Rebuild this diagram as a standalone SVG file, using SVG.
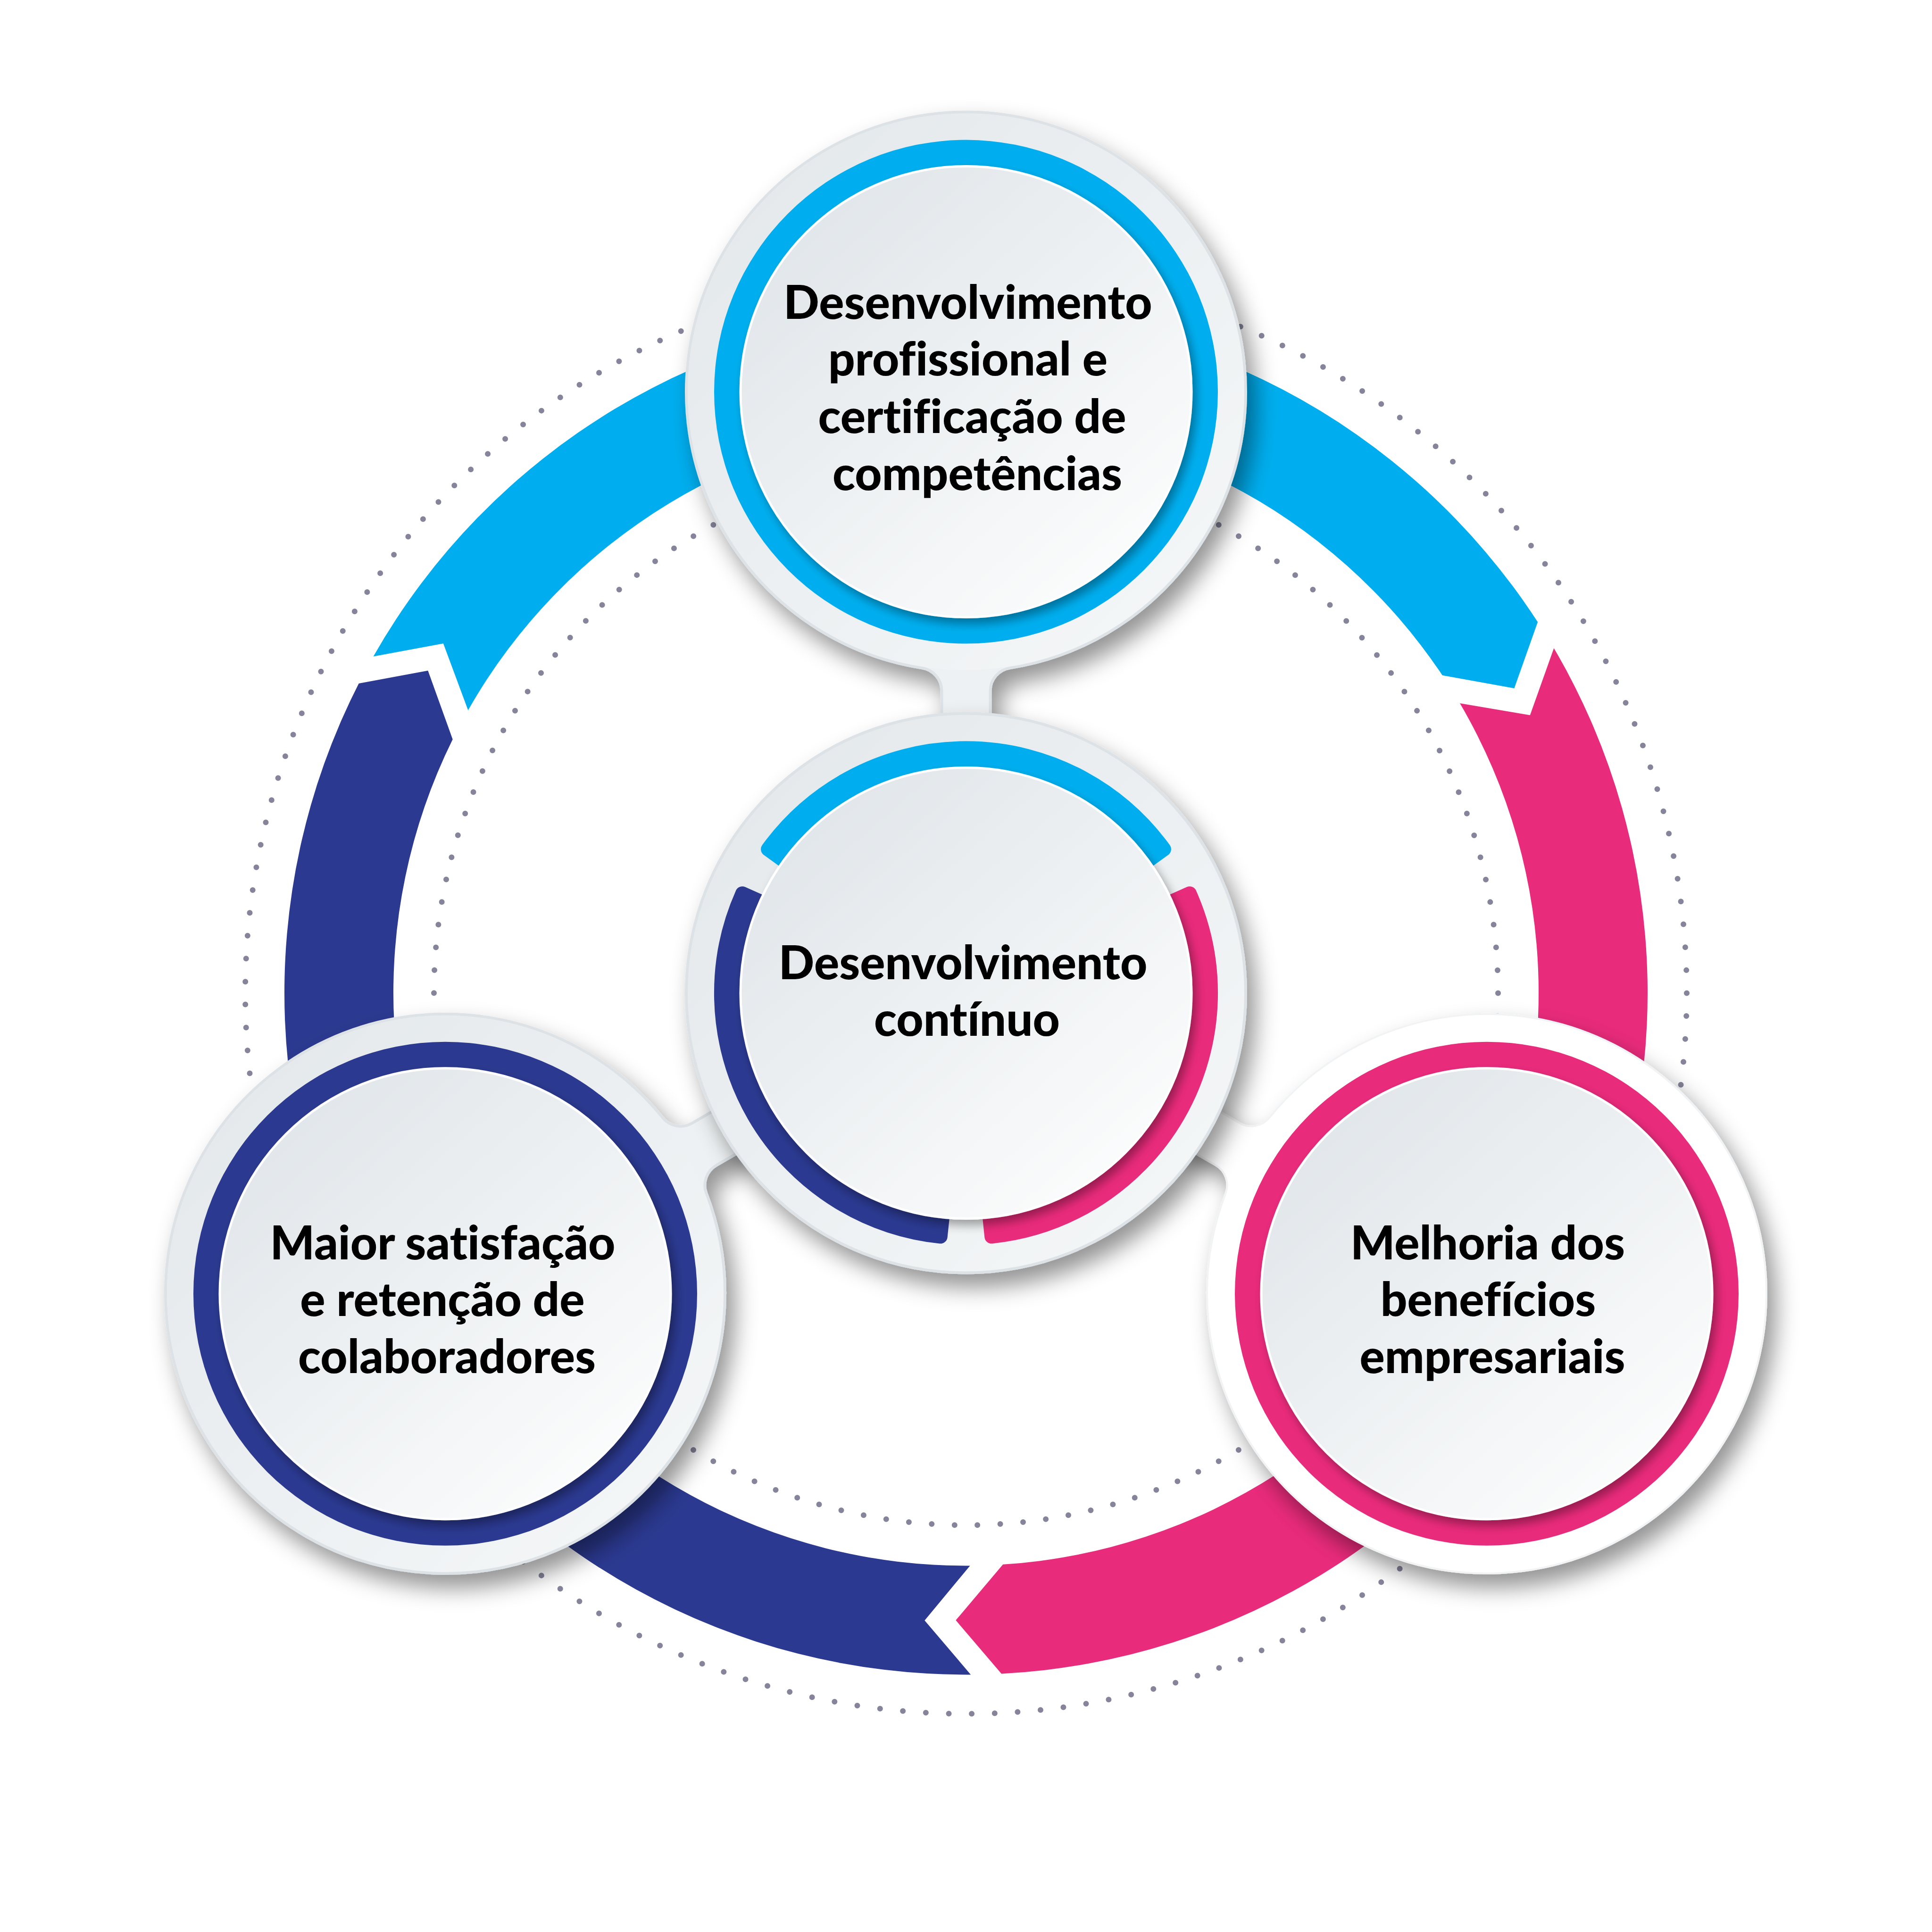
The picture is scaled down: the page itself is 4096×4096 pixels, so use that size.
<svg xmlns="http://www.w3.org/2000/svg" xmlns:xlink="http://www.w3.org/1999/xlink" width="4096" height="4096" viewBox="0 0 4096 4096">
<style>
.txt{font-family:Lato,"Noto Sans","DejaVu Sans",sans-serif;font-weight:900;font-size:99.5px;fill:#000;text-anchor:middle;font-variant-ligatures:none;font-feature-settings:"liga" 0}
.dots{fill:none;stroke:#85849b;stroke-width:12;stroke-linecap:round}
.plate{fill:#eef1f3;stroke:#dce2e6;stroke-width:6}
.plateW{fill:#ffffff;stroke:#f1f3f5;stroke-width:4}
.disk{fill:url(#gOuter)}
.inner{fill:url(#gInner);stroke:#ffffff;stroke-width:5}
.blue{fill:#00aeef}
.navy{fill:#2b3990}
.pink{fill:#e92b7b}
.arcB{fill:#00aeef;stroke:#00aeef;stroke-width:30;stroke-linejoin:round}
.arcN{fill:#2b3990;stroke:#2b3990;stroke-width:30;stroke-linejoin:round}
.arcP{fill:#e92b7b;stroke:#e92b7b;stroke-width:30;stroke-linejoin:round}
</style>
<defs>
<linearGradient id="gOuter" x1="0" y1="0" x2="1" y2="1">
<stop offset="0" stop-color="#e2e7ea"/>
<stop offset="1" stop-color="#f6f8f9"/>
</linearGradient>
<linearGradient id="gInner" x1="0.15" y1="0.1" x2="0.85" y2="0.9">
<stop offset="0" stop-color="#e1e6ea"/>
<stop offset="1" stop-color="#fbfcfc"/>
</linearGradient>
<filter id="sh" x="-30%" y="-30%" width="160%" height="160%">
<feDropShadow dx="18" dy="28" stdDeviation="24" flood-color="#000" flood-opacity="0.42"/>
</filter>
<filter id="ish" x="-20%" y="-20%" width="140%" height="140%">
<feDropShadow dx="8" dy="12" stdDeviation="10" flood-color="#000" flood-opacity="0.35"/>
</filter>
<path id="seg" d="M 2058.1 3550.4 L 1960.3 3435.6 L 2056.5 3319.4 A 1214 1214 0 0 1 959.7 1567.5 L 907.3 1421.8 L 760.7 1449.0 A 1445 1445 0 0 0 2058.1 3550.4 Z"/>
<path id="neckdisk" d="M 1955.2 1416.3 A 49 49 0 0 1 1996.5 1464.7 L 1996.5 1600 L 2099.5 1600 L 2099.5 1464.7 A 49 49 0 0 1 2140.8 1416.3 A 593 593 0 1 0 1955.2 1416.3 Z"/>
<path id="carc" d="M 1628.1 1800.3 A 519 519 0 0 1 2467.9 1800.3 L 2428.2 1829.1 A 470 470 0 0 0 1667.8 1829.1 Z"/>
</defs>
<rect x="0" y="0" width="4096" height="4096" fill="#ffffff"/>

<g id="dotted-guides">
<circle class="dots" cx="2048" cy="2105.4" r="1528" stroke-dasharray="0 48.73"/>
<circle class="dots" cx="2048" cy="2105.4" r="1128" stroke-dasharray="0 48.54"/>
</g>

<g id="connectors">
<use xlink:href="#seg" href="#seg" class="navy"/>
<use xlink:href="#seg" href="#seg" class="blue" transform="rotate(120 2048 2105.4)"/>
<use xlink:href="#seg" href="#seg" class="pink" transform="rotate(240 2048 2105.4)"/>
</g>

<g id="node-top">
<g filter="url(#sh)">
<use xlink:href="#neckdisk" href="#neckdisk" class="plate"/>
</g>
<circle class="disk" cx="2048" cy="830.6" r="590"/>
<circle class="blue" cx="2048" cy="830.6" r="534"/>
<circle class="inner" cx="2048" cy="830.6" r="478" filter="url(#ish)"/>
<text class="txt" x="2052" y="676">Desenvolvimento</text>
<text class="txt" x="2052" y="796">profissional e</text>
<text class="txt" x="2061" y="918">certificação de</text>
<text class="txt" x="2072" y="1039">competências</text>
</g>

<g id="node-left">
<g filter="url(#sh)">
<use xlink:href="#neckdisk" href="#neckdisk" class="plate" transform="rotate(-120 2048 2105.4)"/>
</g>
<circle class="disk" cx="944" cy="2742.8" r="590"/>
<circle class="navy" cx="944" cy="2742.8" r="534"/>
<circle class="inner" cx="944" cy="2742.8" r="478" filter="url(#ish)"/>
<text class="txt" x="938.5" y="2670">Maior satisfação</text>
<text class="txt" x="938" y="2790">e retenção de</text>
<text class="txt" x="947.6" y="2911">colaboradores</text>
</g>

<g id="node-right">
<g filter="url(#sh)">
<use xlink:href="#neckdisk" href="#neckdisk" class="plateW" transform="rotate(120 2048 2105.4)"/>
</g>
<circle class="pink" cx="3152" cy="2742.8" r="534"/>
<circle class="inner" cx="3152" cy="2742.8" r="478" filter="url(#ish)"/>
<text class="txt" x="3154" y="2670">Melhoria dos</text>
<text class="txt" x="3155" y="2790">benefícios</text>
<text class="txt" x="3164" y="2911">empresariais</text>
</g>

<g id="node-center">
<circle cx="2048" cy="2105.4" r="593" fill="url(#gOuter)" stroke="#dce2e6" stroke-width="6" filter="url(#sh)"/>
<use xlink:href="#carc" href="#carc" class="arcB"/>
<use xlink:href="#carc" href="#carc" class="arcN" transform="rotate(-120 2048 2105.4)"/>
<use xlink:href="#carc" href="#carc" class="arcP" transform="rotate(120 2048 2105.4)"/>
<circle class="inner" cx="2048" cy="2105.4" r="478" filter="url(#ish)"/>
<text class="txt" x="2041.6" y="2076">Desenvolvimento</text>
<text class="txt" x="2050" y="2196">contínuo</text>
</g>
</svg>
